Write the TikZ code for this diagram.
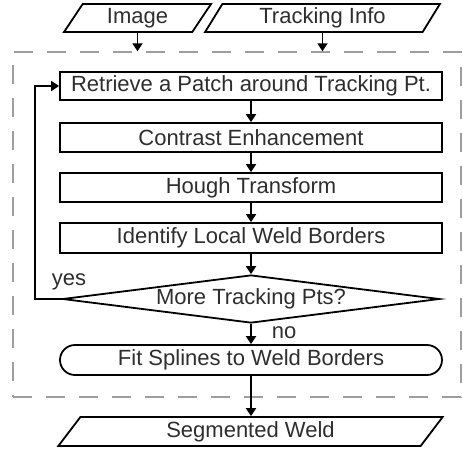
\documentclass[tikz,border=0pt]{standalone}
\usepackage{fontspec}
\setmainfont{Liberation Sans}
\usetikzlibrary{shapes.geometric,shapes.misc,arrows.meta}

\begin{document}
\begin{tikzpicture}[x=1pt,y=-1pt,
  font=\fontsize{22}{24}\selectfont,
  every node/.style={text=black!82},
  line/.style={line width=1.8pt},
  flow/.style={line, -{Triangle[width=10pt,length=8pt]}},
  proc/.style={draw, line, rectangle, minimum width=382, minimum height=29, inner sep=0},
  term/.style={draw, line, rounded rectangle, minimum width=382, minimum height=30, inner sep=0},
  decide/.style={draw, line, diamond, aspect=7.85, minimum width=377, minimum height=48, inner sep=0},
  io/.style={draw, line, trapezium, trapezium left angle=62, trapezium right angle=118,
    trapezium stretches=true, minimum height=28, inner sep=0},
  group/.style={draw=black!38, line width=1.5pt, dash pattern=on 19pt off 14pt,
    rectangle, inner sep=0}
]
\useasboundingbox (0,0) rectangle (463,451);

% processing stage enclosed in a dashed frame
\node[group, minimum width=448, minimum height=345] (grp) at (237,224.5) {};

% inputs
\node[io, minimum width=148] (img) at (137.5,18) {Image};
\node[io, minimum width=235] (trk) at (322.5,18) {Tracking Info};

% steps
\node[proc, minimum height=28] (ret) at (251,86) {Retrieve a Patch around Tracking Pt.};
\node[proc] (con) at (251,137.5) {Contrast Enhancement};
\node[proc] (hou) at (251,187.5) {Hough Transform};
\node[proc, minimum height=30] (idn) at (251,238) {Identify Local Weld Borders};
\node[decide] (dec) at (251,299) {More Tracking Pts?};
\node[term] (fit) at (251,360) {Fit Splines to Weld Borders};

% output
\node[io, minimum width=385, minimum height=29] (seg) at (250.5,431.5) {Segmented Weld};

% connectors
\draw[flow] (img.south) -- (img.south |- grp.north);
\draw[flow] (trk.south) -- (trk.south |- grp.north);
\draw[flow] (ret) -- (con);
\draw[flow] (con) -- (hou);
\draw[flow] (hou) -- (idn);
\draw[flow] (idn) -- (dec);
\draw[flow] (dec) -- (fit);
\draw[flow] (fit.south) -- (fit.south |- seg.north);
\draw[flow] (dec.west) -- ++(-27,0) |- (ret.west);

% branch labels
\node (yes) at (69,282) {yes};
\node (no) at (284,333) {no};
\end{tikzpicture}
\end{document}
